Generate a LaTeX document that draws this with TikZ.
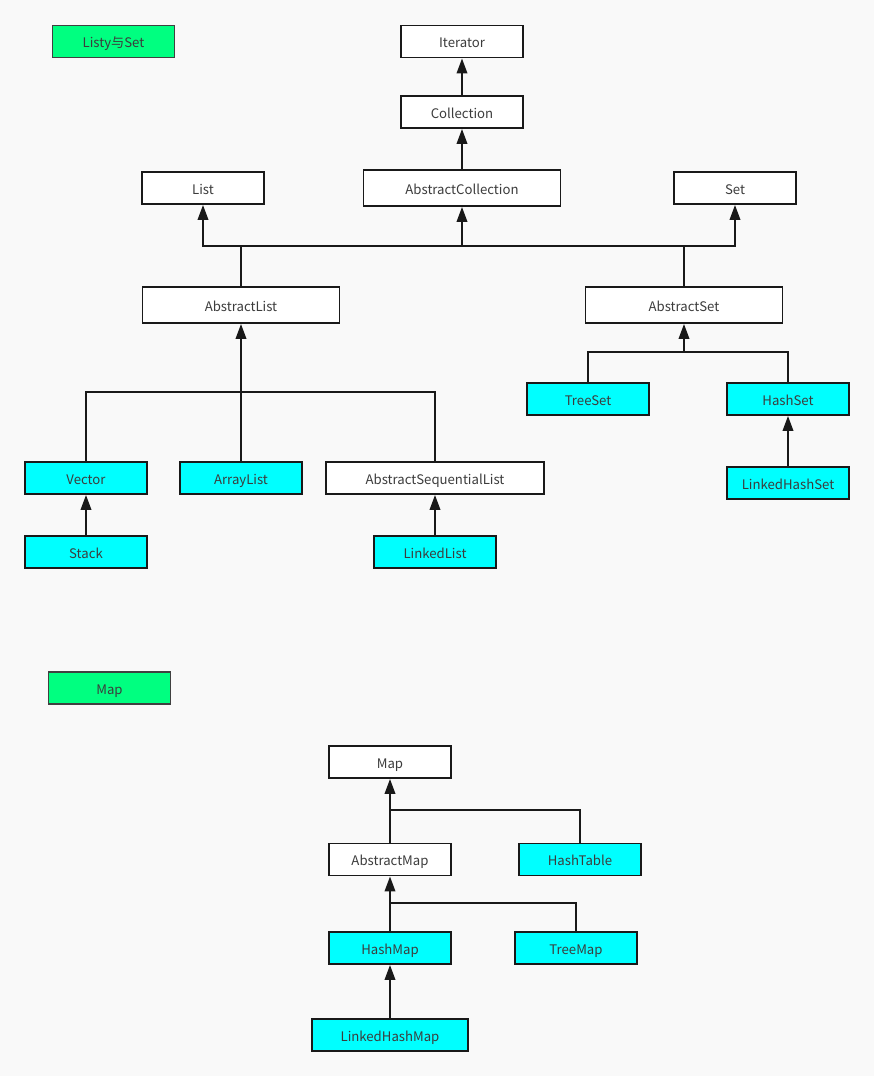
\documentclass[tikz,border=0pt]{standalone}
\usepackage{fontspec}
\setmainfont{Noto Sans CJK SC}
\usetikzlibrary{arrows.meta}
\definecolor{bgcol}{RGB}{249,249,249}
\definecolor{implcol}{RGB}{0,255,255}
\definecolor{tagcol}{RGB}{0,255,128}
\definecolor{txtcol}{RGB}{60,60,60}
\begin{document}
\begin{tikzpicture}[x=0.02cm,y=-0.02cm,
    box/.style={draw=black!90, line width=1.1pt, fill=white, minimum width=2.44cm,
      minimum height=0.64cm, inner sep=0pt, text=txtcol, text height=7pt, text depth=0pt,
      font=\fontsize{7.5}{8}\selectfont},
    impl/.style={box, fill=implcol},
    tag/.style={box, fill=tagcol, draw=black!75},
    link/.style={line width=1.1pt, black!90},
    arr/.style={link, -{Triangle[width=6pt,length=8.5pt]}}]
    \fill[bgcol] (0,0) rectangle (874,1076);
    \useasboundingbox (0,0) rectangle (874,1076);

    % collections
    \node[tag] (tagset) at (113.5,41.5) {Listy与Set};
    \node[box] (Iterator) at (462,41.5) {Iterator};
    \node[box] (Collection) at (462,112) {Collection};
    \node[box] (List) at (203,188) {List};
    \node[box, minimum width=3.94cm, minimum height=0.72cm] (AbstractCollection) at (462,188) {AbstractCollection};
    \node[box] (Set) at (735,188) {Set};
    \node[box, minimum width=3.94cm, minimum height=0.72cm] (AbstractList) at (241,305) {AbstractList};
    \node[box, minimum width=3.94cm, minimum height=0.72cm] (AbstractSet) at (684,305) {AbstractSet};
    \node[impl] (TreeSet) at (588,399) {TreeSet};
    \node[impl] (HashSet) at (788,399) {HashSet};
    \node[impl] (LinkedHashSet) at (788,483) {LinkedHashSet};
    \node[impl] (Vector) at (86,478) {Vector};
    \node[impl] (ArrayList) at (241,478) {ArrayList};
    \node[box, minimum width=4.36cm] (AbstractSequentialList) at (435,478) {AbstractSequentialList};
    \node[impl] (Stack) at (86,552) {Stack};
    \node[impl] (LinkedList) at (435,552) {LinkedList};

    \draw[arr] (Collection) -- (Iterator);
    \draw[arr] (AbstractCollection) -- (Collection);
    \coordinate (topbus) at (0,246);
    \draw[arr] (AbstractList.north) -- (AbstractList.north |- topbus) -| (List.south);
    \draw[arr] (AbstractSet.north) -- (AbstractSet.north |- topbus) -| (Set.south);
    \draw[link] (AbstractList.north |- topbus) -- (AbstractSet.north |- topbus);
    \draw[arr] (AbstractCollection.south |- topbus) -- (AbstractCollection.south);

    \coordinate (setbus) at (0,352);
    \draw[link] (TreeSet.north) -- (TreeSet.north |- setbus) -| (HashSet.north);
    \draw[arr] (AbstractSet.south |- setbus) -- (AbstractSet.south);
    \draw[arr] (LinkedHashSet) -- (HashSet);

    \coordinate (listbus) at (0,392);
    \draw[link] (Vector.north) -- (Vector.north |- listbus) -| (AbstractSequentialList.north);
    \draw[arr] (ArrayList) -- (AbstractList);
    \draw[arr] (Stack) -- (Vector);
    \draw[arr] (LinkedList) -- (AbstractSequentialList);

    % maps
    \node[tag] (tagmap) at (109.5,688) {Map};
    \node[box] (Map) at (390,762) {Map};
    \node[box] (AbstractMap) at (390,859.5) {AbstractMap};
    \node[impl] (HashTable) at (580,859.5) {HashTable};
    \node[impl] (HashMap) at (390,948) {HashMap};
    \node[impl] (TreeMap) at (576,948) {TreeMap};
    \node[impl, minimum width=3.12cm] (LinkedHashMap) at (390,1035) {LinkedHashMap};

    \draw[arr] (AbstractMap) -- (Map);
    \coordinate (mapbus) at (0,810);
    \draw[link] (HashTable.north) -- (HashTable.north |- mapbus) -- (Map.south |- mapbus);
    \draw[arr] (HashMap) -- (AbstractMap);
    \coordinate (hashbus) at (0,903);
    \draw[link] (TreeMap.north) -- (TreeMap.north |- hashbus) -- (AbstractMap.south |- hashbus);
    \draw[arr] (LinkedHashMap) -- (HashMap);
\end{tikzpicture}
\end{document}
